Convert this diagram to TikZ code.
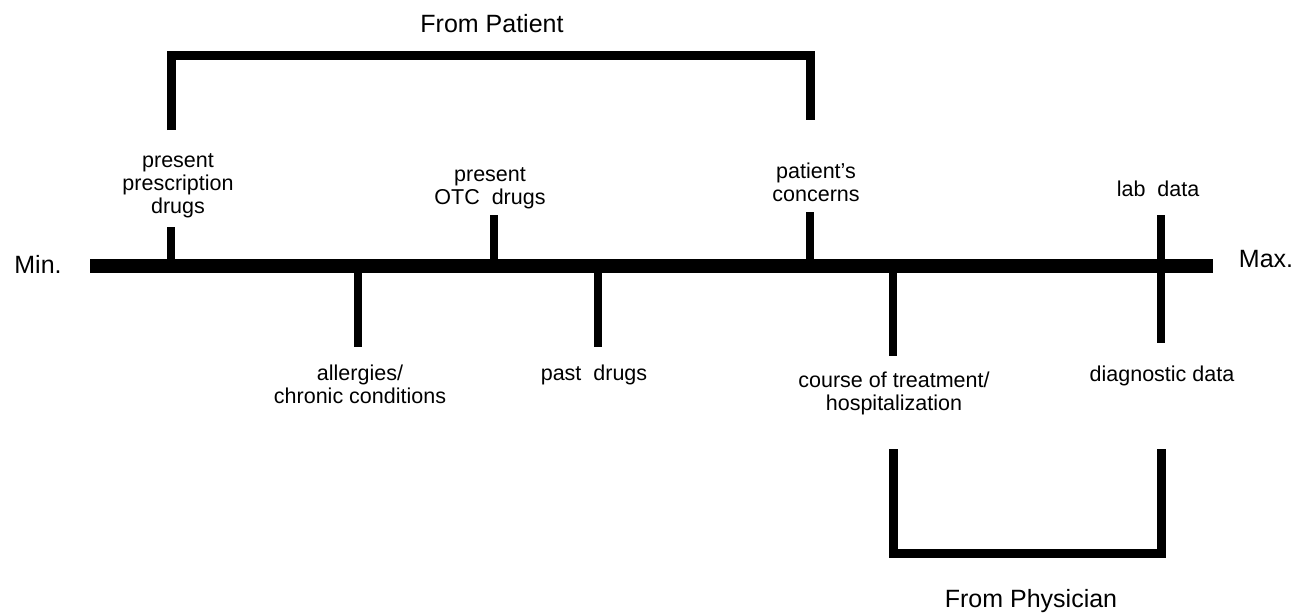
\documentclass[tikz,border=0pt]{standalone}
\usepackage{fontspec}
\setmainfont{Liberation Sans}
\begin{document}
\begin{tikzpicture}[x=1pt,y=-1pt,
  lbl/.style={inner sep=0pt,align=center,font=\fontsize{21.5}{23}\selectfont},
  big/.style={inner sep=0pt,font=\fontsize{25}{28}\selectfont},
  bar/.style={line width=14pt},
  tick/.style={line width=8pt},
  brk/.style={line width=9pt,line join=miter}]
\useasboundingbox (0,0) rectangle (1297,615);
% main axis
\coordinate (a0) at (90,266);
\coordinate (a1) at (1213,266);
\draw[bar] (a0) -- (a1);
\node[big,anchor=base] (min) at (38,273) {Min.};
\node[big,anchor=base] (max) at (1266,267) {Max.};
% labels above
\node[lbl,anchor=south] (presc) at (178,218) {present\\prescription\\drugs};
\node[lbl,anchor=south] (otc) at (490,209) {present\\OTC\ \ drugs};
\node[lbl,anchor=south] (conc) at (816,202) {patient's\\concerns};
\node[lbl,anchor=south] (lab) at (1158,197) {lab\ \ data};
% labels below
\node[lbl,anchor=north] (allg) at (360,365) {allergies/\\chronic conditions};
\node[lbl,anchor=north] (past) at (594,365) {past\ \ drugs};
\node[lbl,anchor=north] (course) at (894,372) {course of treatment/\\hospitalization};
\node[lbl,anchor=north] (diag) at (1162,366) {diagnostic data};
% tick coordinates
\coordinate (t1a) at (171,227); \coordinate (t1b) at (171,266);
\coordinate (t2a) at (494,215); \coordinate (t2b) at (494,266);
\coordinate (t3a) at (810,212); \coordinate (t3b) at (810,266);
\coordinate (t4a) at (1161,215); \coordinate (t4b) at (1161,266);
\coordinate (b1a) at (358,266); \coordinate (b1b) at (358,347);
\coordinate (b2a) at (598,266); \coordinate (b2b) at (598,347);
\coordinate (b3a) at (893,266); \coordinate (b3b) at (893,356);
\coordinate (b4a) at (1161,266); \coordinate (b4b) at (1161,343);
\draw[tick] (t1a) -- (t1b);
\draw[tick] (t2a) -- (t2b);
\draw[tick] (t3a) -- (t3b);
\draw[tick] (t4a) -- (t4b);
\draw[tick] (b1a) -- (b1b);
\draw[tick] (b2a) -- (b2b);
\draw[tick] (b3a) -- (b3b);
\draw[tick] (b4a) -- (b4b);
% From Patient bracket
\node[big,anchor=base] (fpat) at (492,33) {From Patient};
\coordinate (p1) at (171,130);
\coordinate (p2) at (171,56);
\coordinate (p3) at (810,56);
\coordinate (p4) at (810,120);
\draw[brk] (p1) -- (p2) -- (p3) -- (p4);
% From Physician bracket
\node[big,anchor=base] (fphy) at (1031,607) {From Physician};
\coordinate (q1) at (893,449);
\coordinate (q2) at (893,553);
\coordinate (q3) at (1161,553);
\coordinate (q4) at (1161,449);
\draw[brk] (q1) -- (q2) -- (q3) -- (q4);
\end{tikzpicture}
\end{document}
